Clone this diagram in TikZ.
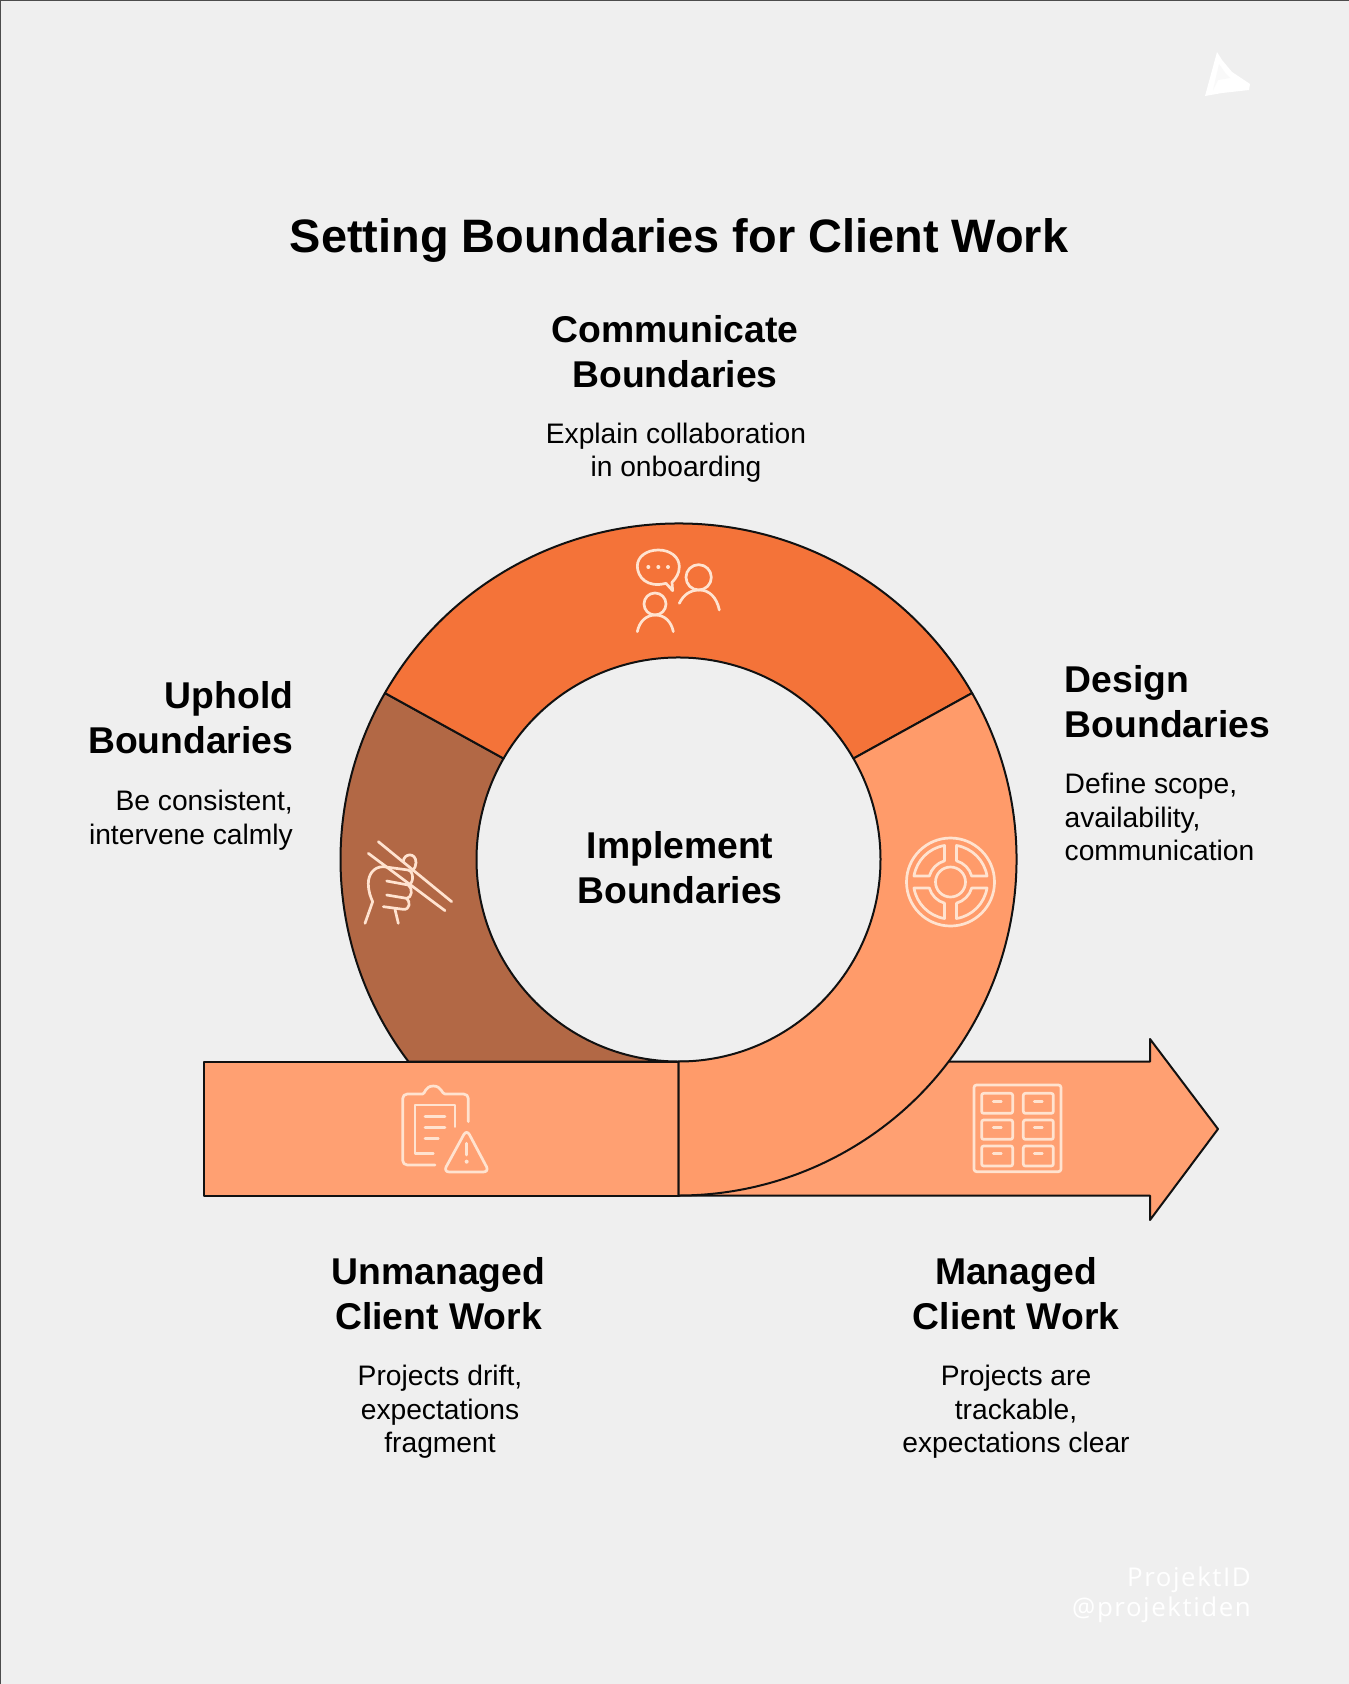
\documentclass[tikz,border=0pt]{standalone}
\usepackage{fontspec}
\setmainfont{Liberation Sans}
\newfontfamily\wmfont{Open Sans}
\definecolor{bgc}{HTML}{EFEFEF}
\definecolor{topc}{HTML}{F47339}
\definecolor{rightc}{HTML}{FF9B6A}
\definecolor{rectc}{HTML}{FFA072}
\definecolor{brownc}{HTML}{B26845}
\definecolor{edgec}{HTML}{111111}
\definecolor{iconc}{HTML}{FFE3D0}
\tikzset{
  seg/.style={draw=edgec,line width=2pt,line join=round},
  ttl/.style={font=\bfseries\fontsize{46.9}{52}\selectfont,inner sep=0pt},
  head/.style={font=\bfseries\fontsize{37.3}{45}\selectfont,inner sep=0pt,align=#1},
  head/.default=center,
  body/.style={font=\fontsize{28.2}{33.4}\selectfont,inner sep=0pt,align=#1},
  body/.default=center,
  icon/.style={draw=iconc,line width=2.7pt,line cap=round,line join=round},
  zoomed/.style={x=0.3333pt,y=-0.3333pt},
  wm/.style={font=\wmfont\fontsize{25.9}{30}\selectfont,text=white,inner sep=0pt,anchor=base east},
}
\begin{document}
\begin{tikzpicture}[x=1pt,y=1pt]
\useasboundingbox (0,0) rectangle (1349,-1684);
\fill[bgc] (0,0) rectangle (1349,-1684);
\draw[black!70,line width=1.2pt] (0.6,-1684) -- (0.6,-0.4) -- (1349,-0.4);
\coordinate (c) at (678.5,-859.5);
\coordinate (bandtop) at (678.5,-1061.5);
\coordinate (bandbot) at (678.5,-1195.5);
\coordinate (outerL) at ([shift={(150.3:338 and 336)}]c);
\coordinate (outerR) at ([shift={(29.7:338 and 336)}]c);
% ring left part
\draw[seg,fill=brownc] (outerL) arc[start angle=150.3,end angle=217,x radius=338,y radius=336] -- (bandtop) arc (270:150:202) -- cycle;
% band
\draw[seg,fill=rectc] (204,-1061.5) rectangle (bandbot);
\draw[seg,fill=rectc] (bandtop) -- (1150,-1061.5) -- (1150,-1039) -- (1218,-1129) -- (1150,-1220) -- (1150,-1195.5) -- (bandbot) -- cycle;
% ring top and right
\draw[seg,fill=topc] (outerL) arc[start angle=150.3,end angle=29.7,x radius=338,y radius=336] -- ([shift={(30:202)}]c) arc (30:150:202) -- cycle;
\draw[seg,fill=rightc] (outerR) arc[start angle=29.7,end angle=-90,x radius=338,y radius=336] -- (bandtop) arc (-90:30:202) -- cycle;
% chat icon
\begin{scope}[shift={(580pt,-520pt)},zoomed]
\draw[icon] (258,190) .. controls (200,205) and (172,170) .. (172,138) .. controls (172,110) and (200,90) .. (235,90) .. controls (272,90) and (298,112) .. (298,140) .. controls (298,160) and (288,175) .. (276,187) -- (278,212) -- cycle;
\fill[iconc] (205,141) circle[radius=6] (235,141) circle[radius=6] (264,141) circle[radius=6];
\draw[icon] (356,172) circle[radius=38];
\draw[icon] (298,250) .. controls (310,225) and (330,210) .. (358,210) .. controls (388,210) and (410,232) .. (418,270);
\draw[icon] (225,252) circle[radius=33];
\draw[icon] (172,335) .. controls (178,305) and (198,285) .. (226,285) .. controls (254,285) and (274,305) .. (280,335);
\end{scope}
% hand icon
\begin{scope}[shift={(340pt,-820pt)},zoomed]
\draw[icon] (115,65) -- (335,245);
\draw[icon] (85,100) -- (315,272);
\draw[icon] (190,125) .. controls (190,100) and (228,95) .. (228,128) .. controls (228,138) and (224,145) .. (218,152);
\draw[icon] (205,150) -- (130,140) .. controls (100,140) and (85,165) .. (85,190) .. controls (85,215) and (92,232) .. (98,245) -- (75,310);
\draw[icon] (205,150) .. controls (222,155) and (222,190) .. (205,195) -- (140,183);
\draw[icon] (205,195) .. controls (220,205) and (215,235) .. (200,235) -- (140,225);
\draw[icon] (200,235) .. controls (212,245) and (210,270) .. (190,268) -- (130,260);
\draw[icon] (165,268) -- (175,310);
\end{scope}
% wheel icon
\begin{scope}[shift={(950.5pt,-882pt)},x=1pt,y=1pt]
\draw[icon] (0,0) circle[radius=44];
\draw[icon] (0,0) circle[radius=15];
\foreach \q in {0,90,180,270}{
  \draw[icon] (\q+9.3:37) arc (\q+9.3:\q+80.7:37) -- (\q+74.2:22) arc (\q+74.2:\q+15.8:22) -- cycle;
}
\end{scope}
% clipboard icon
\begin{scope}[shift={(380pt,-1070pt)},zoomed]
\draw[icon] (165,285) -- (82,285) .. controls (74,285) and (68,279) .. (68,271) -- (68,86) .. controls (68,78) and (74,72) .. (82,72) -- (128,72) .. controls (135,72) and (135,48) .. (160,48) .. controls (185,48) and (185,72) .. (195,72) -- (251,72) .. controls (259,72) and (265,78) .. (265,86) -- (265,155);
\draw[icon] (225,170) -- (225,105) -- (105,105) -- (105,250) -- (160,250);
\draw[icon] (135,140) -- (195,140);
\draw[icon] (135,172) -- (195,172);
\draw[icon] (135,205) -- (175,205);
\draw[icon,rounded corners=6pt] (260,178) -- (328,306) -- (190,306) -- cycle;
\draw[icon] (260,220) -- (260,255);
\fill[iconc] (260,275) circle[radius=6];
\end{scope}
% grid icon
\begin{scope}[shift={(960pt,-1070pt)},zoomed]
\draw[icon,rounded corners=2.5pt] (42,45) rectangle (303,305);
\foreach \xa/\xb/\xc in {65/158/112,190/280/235}{
  \foreach \ya/\yb/\yc in {70/130/95,150/208/172,228/288/250}{
    \draw[icon,rounded corners=2pt] (\xa,\ya) rectangle (\xb,\yb);
    \draw[icon] (\xc-12,\yc) -- (\xc+12,\yc);
  }
}
\end{scope}
% logo
\fill[white] (1217,-52) -- (1222,-60) -- (1232,-72) -- (1250,-84) -- (1249,-90) -- (1222,-93) -- (1205,-96) -- (1208,-85) -- cycle;
\fill[bgc!40!white] (1219,-64) -- (1226,-74) -- (1230,-78) -- (1218,-80) -- (1213,-90) -- cycle;
% text
\node[ttl] (title) at (679,-240) {Setting Boundaries for Client Work};
\node[head] (comm) at (675,-352) {Communicate\\Boundaries};
\node[body] (commb) at (676,-453) {Explain collaboration\\in onboarding};
\node[head=right,anchor=east] (uph) at (293.5,-718) {Uphold\\Boundaries};
\node[body=right,anchor=east] (uphb) at (293,-820) {Be consistent,\\intervene calmly};
\node[head=left,anchor=west] (des) at (1064.5,-702) {Design\\Boundaries};
\node[body=left,anchor=west] (desb) at (1064.5,-817) {Define scope,\\availability,\\communication};
\node[head] (impl) at (680,-868) {Implement\\Boundaries};
\node[head] (unm) at (438.5,-1294) {Unmanaged\\Client Work};
\node[body] (unmb) at (440,-1412) {Projects drift,\\expectations\\fragment};
\node[head] (man) at (1016,-1294) {Managed\\Client Work};
\node[body] (manb) at (1016,-1412) {Projects are\\trackable,\\expectations clear};
\node[wm] (wm1) at (1251,-1586) {\addfontfeature{LetterSpace=6}ProjektID};
\node[wm] (wm2) at (1251,-1616) {\addfontfeature{LetterSpace=6}@projektiden};
\end{tikzpicture}
\end{document}
